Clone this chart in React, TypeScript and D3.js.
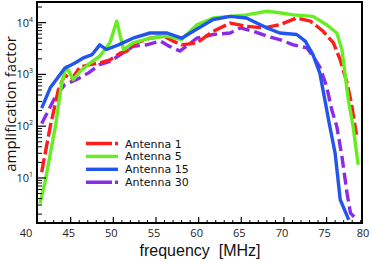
import React from 'react';
import * as d3 from 'd3';

// frequency [MHz] / amplification factor
const ant1Freq = [41.6, 42.6, 43.55, 44.3, 45.1, 46.1, 47.3, 48.4, 49.6, 50.8, 51.6, 52.7, 54.3, 55.9, 57.0, 58.0, 59.8, 61.7, 63.7, 65.6, 67.6, 69.5, 71.5, 73.1, 74.6, 75.8, 76.6, 77.4, 77.9, 78.5];
const ant1Amp = [13, 98, 500, 980, 800, 1400, 1550, 1660, 1900, 2570, 2820, 4070, 5000, 5500, 4400, 3720, 4070, 6800, 9800, 8500, 7900, 9100, 12300, 10700, 6800, 4070, 1900, 680, 280, 68];

const ant5Freq = [41.4, 42.0, 43.2, 43.95, 44.5, 45.3, 46.3, 47.3, 48.4, 49.6, 50.4, 51.2, 52.3, 54.3, 56.3, 58.0, 59.8, 61.7, 63.7, 65.6, 68.0, 69.5, 71.1, 73.4, 75.0, 76.2, 76.8, 77.2, 77.55, 78.1, 78.7];
const ant5Amp = [3.2, 8.5, 98, 680, 1400, 800, 1230, 1660, 2240, 4070, 10700, 3020, 4070, 5000, 5500, 4700, 9100, 12300, 13200, 14100, 16600, 15500, 14100, 13200, 9100, 6300, 3020, 910, 320, 100, 18];

const ant15Freq = [41.6, 42.6, 44.3, 45.5, 46.5, 47.5, 48.4, 49.2, 50.6, 52.3, 54.3, 56.3, 58.0, 59.6, 61.7, 63.7, 65.6, 66.8, 68.0, 69.5, 71.5, 72.5, 73.4, 74.2, 74.8, 75.3, 76.0, 76.6, 77.6];
const ant15Amp = [224, 550, 1320, 1660, 2090, 2400, 3720, 3020, 3720, 5000, 6300, 6300, 5000, 7200, 11500, 13200, 12300, 9800, 7900, 6300, 5900, 4400, 2400, 1070, 320, 115, 30, 3.8, 1.55];

const ant30Freq = [41.6, 43.2, 44.3, 45.7, 47.1, 48.4, 49.6, 50.8, 52.3, 53.9, 55.5, 56.6, 57.8, 59.8, 61.7, 63.7, 64.9, 66.4, 68.0, 69.5, 71.1, 72.7, 73.4, 74.2, 75.0, 75.6, 76.2, 76.8, 77.4, 77.8, 78.5];
const ant30Amp = [112, 370, 630, 800, 1070, 1550, 1780, 2400, 3470, 3720, 4400, 3470, 2820, 5000, 5900, 6300, 7900, 6800, 5500, 4700, 3720, 3240, 2240, 1400, 590, 210, 98, 26, 5, 2.1, 1.6];

const seriesNames = ['Antenna 1', 'Antenna 5', 'Antenna 15', 'Antenna 30'];
const seriesColors = ['#ff1c1c', '#66ee22', '#2255ee', '#8a2be8'];
const seriesDash = ['14,4', null, null, '12,5'];
const legendDash = ['26,3', null, null, '26,3'];

const xTickLabels = [40, 45, 50, 55, 60, 65, 70, 75, 80];
const yDecades = [1, 2, 3, 4];

const font = "'Open Sans', sans-serif";

export default function App() {
  const width = 371;
  const height = 261;
  const left = 37, right = 362, top = 2, bottom = 223;

  const x = d3.scaleLinear().domain([41.05, 79.15]).range([left, right]);
  const y = d3.scaleLog().domain([1.35, 25000]).range([bottom, top]);

  const series = [
    { f: ant1Freq, a: ant1Amp },
    { f: ant5Freq, a: ant5Amp },
    { f: ant15Freq, a: ant15Amp },
    { f: ant30Freq, a: ant30Amp },
  ];

  const line = d3.line<[number, number]>()
    .x(d => x(d[0]))
    .y(d => y(d[1]));

  // draw order: purple, red underneath green/blue like the figure
  const order = [3, 0, 1, 2];

  const xMinor = d3.range(42, 80).filter(v => v % 5 !== 0);
  const xMajor = d3.range(45, 80, 5);

  const yMinor: number[] = [];
  [0, 1, 2, 3, 4].forEach(d => {
    d3.range(2, 10).forEach(m => {
      const v = m * Math.pow(10, d);
      if (v > 1.35 && v < 25000) yMinor.push(v);
    });
  });

  return (
    <svg width={width} height={height} style={{ position: 'absolute', left: 0, top: 0, background: '#fff' }}>
      <defs>
        <clipPath id="plotclip">
          <rect x={left} y={top} width={right - left} height={bottom - top} />
        </clipPath>
      </defs>

      <g clipPath="url(#plotclip)">
        {order.map(i => (
          <path key={i}
                d={line(series[i].f.map((f, j) => [f, series[i].a[j]] as [number, number])) || ''}
                fill="none"
                stroke={seriesColors[i]}
                strokeWidth={3.4}
                strokeDasharray={seriesDash[i] || undefined}
                strokeLinejoin="round" />
        ))}
      </g>

      {/* frame */}
      <rect x={left} y={top} width={right - left} height={bottom - top} fill="none" stroke="#000" strokeWidth={2} />

      {/* x ticks */}
      {xMinor.map(v => (
        <line key={'xm' + v} x1={x(v)} x2={x(v)} y1={bottom} y2={bottom - 3} stroke="#000" strokeWidth={1} />
      ))}
      {xMajor.map(v => (
        <line key={'xM' + v} x1={x(v)} x2={x(v)} y1={bottom} y2={bottom - 6} stroke="#000" strokeWidth={1.2} />
      ))}
      {xTickLabels.map(v => (
        <text key={'xl' + v} x={Math.min(x(v) - 2, 363)} y={236.5} textAnchor="middle" fontFamily={font} fontSize={11} fill="#222">{v}</text>
      ))}

      {/* y ticks */}
      {yMinor.map((v, i) => (
        <line key={'ym' + i} x1={left} x2={left + 5} y1={y(v)} y2={y(v)} stroke="#000" strokeWidth={1} />
      ))}
      {yDecades.map(d => (
        <line key={'yM' + d} x1={left} x2={left + 9} y1={y(Math.pow(10, d))} y2={y(Math.pow(10, d))} stroke="#000" strokeWidth={1.2} />
      ))}
      {yDecades.map(d => (
        <text key={'yl' + d} x={33} y={y(Math.pow(10, d)) + 4} textAnchor="end" fontFamily={font} fontSize={11} fill="#222">
          10<tspan dy={-5} fontSize={7}>{d}</tspan>
        </text>
      ))}

      {/* legend */}
      {seriesNames.map((name, i) => (
        <g key={name} transform={`translate(86,${143.5 + i * 12.9})`}>
          <line x1={0} x2={32} y1={0} y2={0} stroke={seriesColors[i]} strokeWidth={3.4}
                strokeDasharray={legendDash[i] || undefined} />
          <text x={39} y={4} fontFamily="'DejaVu Sans', sans-serif" fontSize={11} fill="#111">{name}</text>
        </g>
      ))}

      {/* axis titles */}
      <text x={200} y={255.5} textAnchor="middle" fontFamily="'Liberation Sans', sans-serif" fontSize={16} fill="#111" style={{ whiteSpace: 'pre' }}>frequency  [MHz]</text>
      <text transform="translate(16,104) rotate(-90)" textAnchor="middle" fontFamily={font} fontSize={15} fill="#111">amplification factor</text>
    </svg>
  );
}
